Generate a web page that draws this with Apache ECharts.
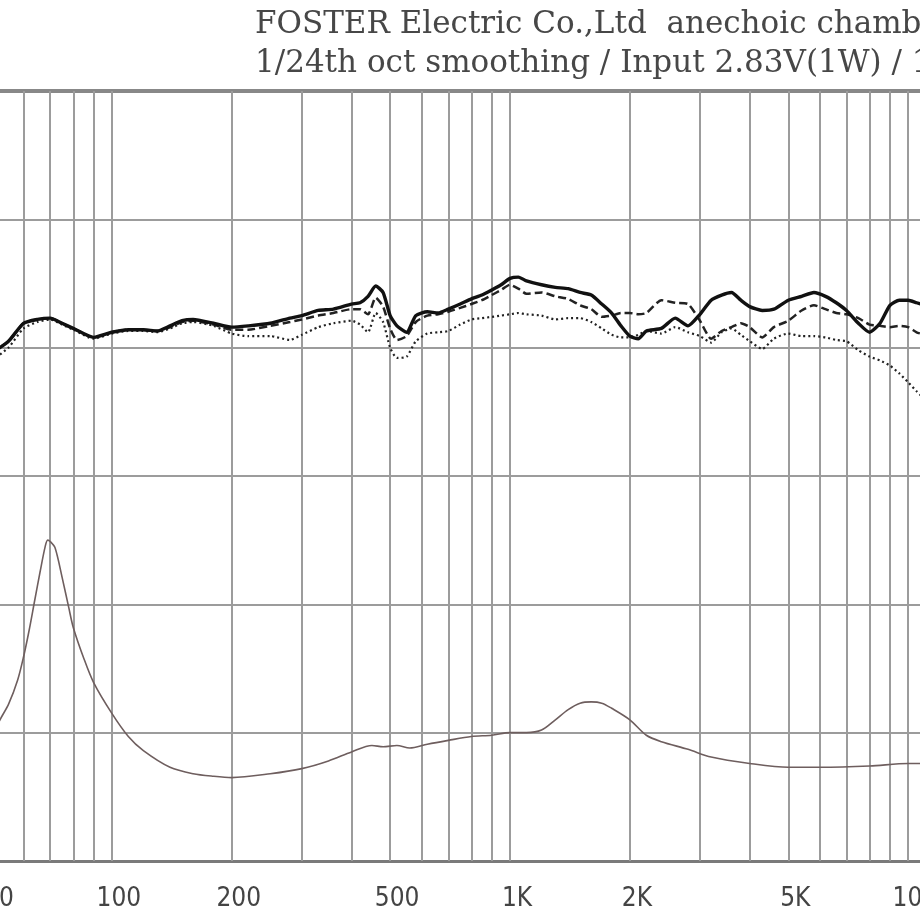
<!DOCTYPE html>
<html>
<head>
<meta charset="utf-8">
<title>Frequency response / impedance</title>
<script src="https://cdn.jsdelivr.net/npm/echarts@6/dist/echarts.min.js"></script>
<style>
  html, body { margin: 0; padding: 0; background: #fff; }
  #chart { width: 920px; height: 920px; }
</style>
</head>
<body>
<div id="chart"></div>
<script>
// Hz, shared by the three SPL curves
const freq = [50, 55, 60, 65, 70, 75, 80, 90,
  100, 110, 120, 130, 140, 150, 160, 180,
  200, 220, 250, 280, 300, 330, 360,
  400, 420, 440, 460, 480,
  500, 520, 550, 580, 620, 660, 700, 750, 800, 850, 900, 950,
  1000, 1050, 1100, 1200, 1300, 1400, 1500, 1600, 1700, 1800, 1900,
  2000, 2100, 2200, 2400, 2600, 2800, 3000, 3200, 3400, 3600, 3800,
  4000, 4300, 4600,
  5000, 5400, 5800, 6200, 6600, 7000, 7500, 8000, 8500, 9000, 9500,
  10000, 10500, 11000]

// dB SPL
const splSolid = [89.6, 90.5, 91.9, 92.2, 92.3, 91.9, 91.5, 90.8,
  91.2, 91.4, 91.4, 91.3, 91.7, 92.1, 92.2, 91.9,
  91.6, 91.7, 91.9, 92.3, 92.5, 92.9, 93.0,
  93.4, 93.5, 94.0, 94.8, 94.3,
  92.5, 91.7, 91.2, 92.5, 92.8, 92.7, 93.0, 93.4, 93.8, 94.1, 94.5, 94.9,
  95.4, 95.5, 95.2, 94.9, 94.7, 94.6, 94.3, 94.1, 93.4, 92.7, 91.7,
  90.9, 90.7, 91.3, 91.5, 92.3, 91.7, 92.6, 93.7, 94.1, 94.3, 93.7,
  93.2, 92.9, 93.0,
  93.7, 94.0, 94.3, 94.0, 93.5, 92.9, 91.9, 91.2, 91.9, 93.3, 93.7,
  93.7, 93.5, 93.3]

const splDashed = [89.6, 90.5, 91.9, 92.2, 92.3, 91.9, 91.5, 90.8,
  91.2, 91.4, 91.4, 91.3, 91.6, 92.0, 92.1, 91.8,
  91.4, 91.4, 91.7, 92.0, 92.2, 92.5, 92.7,
  93.0, 93.0, 92.6, 93.9, 93.2,
  91.5, 90.6, 90.9, 92.0, 92.5, 92.6, 92.8, 93.1, 93.4, 93.7, 94.1, 94.5,
  94.9, 94.6, 94.2, 94.3, 94.0, 93.8, 93.3, 93.0, 92.4, 92.5, 92.7,
  92.7, 92.6, 92.7, 93.7, 93.5, 93.4, 92.1, 90.7, 91.3, 91.6, 91.9,
  91.6, 90.8, 91.6,
  92.1, 92.9, 93.3, 93.0, 92.7, 92.6, 92.3, 91.8, 91.7, 91.6, 91.7,
  91.6, 91.2, 91.0]

const splDotted = [89.0, 90.0, 91.5, 92.0, 92.2, 91.8, 91.4, 90.7,
  91.1, 91.3, 91.3, 91.2, 91.5, 91.9, 92.0, 91.7,
  91.1, 90.9, 90.9, 90.6, 91.0, 91.6, 91.9,
  92.1, 91.8, 91.2, 92.7, 92.0,
  90.0, 89.2, 89.3, 90.5, 91.1, 91.2, 91.3, 91.8, 92.2, 92.3, 92.4, 92.5,
  92.6, 92.7, 92.6, 92.5, 92.2, 92.3, 92.3, 92.0, 91.5, 91.0, 90.8,
  90.8, 91.0, 91.3, 91.1, 91.6, 91.2, 90.9, 90.4, 91.2, 91.5, 91.0,
  90.5, 89.9, 90.7,
  91.1, 90.9, 90.9, 90.8, 90.6, 90.5, 89.8, 89.3, 89.0, 88.6, 88.0,
  87.3, 86.6, 86.0]

// impedance curve (ohm)
const impFreq = [50, 52, 55, 58, 60, 62, 64, 66, 68, 69,
  70, 72, 75, 78, 80, 85, 90,
  100, 110, 120, 140, 160, 180,
  200, 250, 300, 350, 400, 450, 480,
  520, 560, 620, 700, 800, 900,
  1000, 1100, 1200, 1300, 1400, 1500, 1600, 1700, 1800,
  2000, 2200, 2400, 2800, 3200,
  4000, 5000, 6000, 8000,
  10000, 11000]
const impedance = [9.0, 10.8, 12.2, 14.1, 15.9, 18.0, 20.3, 22.5, 24.5, 25.0,
  24.9, 24.4, 22.1, 19.7, 18.2, 15.8, 13.9,
  11.5, 9.7, 8.6, 7.3, 6.8, 6.6,
  6.5, 6.8, 7.2, 7.8, 8.5, 9.0, 8.9,
  9.0, 8.8, 9.1, 9.4, 9.7, 9.8,
  10.0, 10.0, 10.2, 11.0, 11.8, 12.3, 12.4, 12.3, 11.9,
  11.0, 9.8, 9.3, 8.7, 8.1,
  7.6, 7.3, 7.3, 7.4,
  7.6, 7.6]

// vertical grid and x labels
const gridFreqs = [50, 60, 70, 80, 90, 100, 200, 300, 400, 500, 600, 700, 800, 900,
  1000, 2000, 3000, 4000, 5000, 6000, 7000, 8000, 9000, 10000]
const tickFreqs = [50, 100, 200, 500, 1000, 2000, 5000, 10000]
const tickLabels = ['50', '100', '200', '500', '1K', '2K', '5K', '10K']

const gridColor = '#9c9c9c'

const chart = echarts.init(document.getElementById('chart'), null, { renderer: 'canvas' })

const vLines = gridFreqs.map(f => {
  const k = tickFreqs.indexOf(f)
  return {
    xAxis: f,
    label: { show: k >= 0, formatter: k >= 0 ? tickLabels[k] : '' }
  }
})

const pairs = (xs, ys) => xs.map((x, i) => [x, ys[i]])

chart.setOption({
  animation: false,
  backgroundColor: '#fff',
  title: {
    text: 'FOSTER Electric Co.,Ltd  anechoic chamber\n1/24th oct smoothing / Input 2.83V(1W) / 1m',
    left: 250,
    top: 0,
    textStyle: {
      fontFamily: 'DejaVu Serif',
      fontSize: 31,
      fontWeight: 'normal',
      color: '#474747',
      lineHeight: 39
    }
  },
  // the picture is a crop: the plot runs past the left and right edges
  grid: {
    left: -8,
    top: 91,
    width: 1036,
    height: 770,
    outerBoundsMode: 'none'
  },
  xAxis: [
    {
      type: 'log',
      min: 50,
      max: 20000,
      axisLine: { lineStyle: { color: '#7a7a7a', width: 3 } },
      axisTick: { show: false },
      axisLabel: { show: false },
      splitLine: { show: false }
    },
    {
      type: 'log',
      position: 'top',
      min: 50,
      max: 20000,
      axisLine: { lineStyle: { color: '#888', width: 4 } },
      axisTick: { show: false },
      axisLabel: { show: false },
      splitLine: { show: false }
    }
  ],
  yAxis: [
    {
      type: 'value',
      min: 50,
      max: 110,
      interval: 10,
      axisLine: { show: false },
      axisTick: { show: false },
      axisLabel: { show: false },
      splitLine: { lineStyle: { color: gridColor, width: 2 } }
    },
    {
      type: 'value',
      min: 0,
      max: 60,
      show: false
    }
  ],
  series: [
    {
      // grid lines + frequency labels
      type: 'line',
      data: [],
      z: 1,
      markLine: {
        silent: true,
        z: 1,
        symbol: ['none', 'none'],
        lineStyle: { color: gridColor, width: 2, type: 'solid' },
        label: {
          position: 'start',
          distance: 25,
          padding: [0, 0, 0, 14],
          fontFamily: 'Liberation Sans Narrow, DejaVu Sans Condensed, Roboto, sans-serif',
          fontSize: 26,
          color: '#444'
        },
        emphasis: { disabled: true },
        data: vLines
      }
    },
    {
      name: 'impedance',
      type: 'line',
      yAxisIndex: 1,
      z: 3,
      smooth: 0.3,
      showSymbol: false,
      lineStyle: { color: '#6e5e5e', width: 1.6 },
      data: pairs(impFreq, impedance)
    },
    {
      name: 'SPL dotted',
      type: 'line',
      z: 3,
      smooth: 0.2,
      showSymbol: false,
      lineStyle: { color: '#222', width: 2.2, type: [2, 3] },
      data: pairs(freq, splDotted)
    },
    {
      name: 'SPL dashed',
      type: 'line',
      z: 4,
      smooth: 0.2,
      showSymbol: false,
      lineStyle: { color: '#222', width: 2.5, type: [8, 4] },
      data: pairs(freq, splDashed)
    },
    {
      name: 'SPL solid',
      type: 'line',
      z: 5,
      smooth: 0.2,
      showSymbol: false,
      lineStyle: { color: '#111', width: 3.4 },
      data: pairs(freq, splSolid)
    }
  ]
})
</script>
</body>
</html>
